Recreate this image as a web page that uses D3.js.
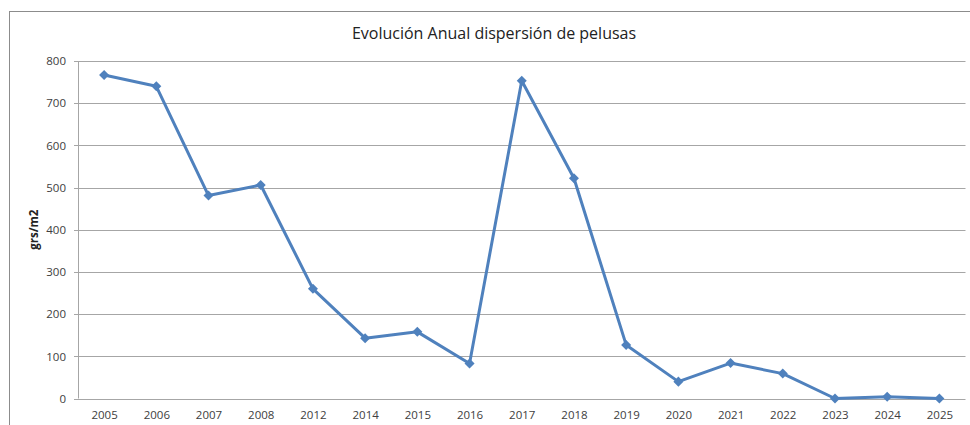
<!DOCTYPE html>
<html>
<head>
<meta charset="utf-8">
<script src="https://cdn.jsdelivr.net/npm/d3@7"></script>
<style>
  body { margin: 0; background: #fff; }
  svg { display: block; font-family: "Open Sans", "Noto Sans", sans-serif; }
</style>
</head>
<body>
<svg class="chart_svg"></svg>
<script>
const years = ["2005", "2006", "2007", "2008", "2012", "2014", "2015", "2016", "2017", "2018", "2019", "2020", "2021", "2022", "2023", "2024", "2025"];
const values = [767, 740, 481, 506, 260, 143, 158, 83, 753, 522, 127, 40, 84, 59, 0, 4, 0];
const yTicks = [0, 100, 200, 300, 400, 500, 600, 700, 800];
const title = "Evolución Anual dispersión de pelusas";
const yLabel = "grs/m2";

const width = 970, height = 425;
const margin = { left: 78, top: 61, right: 4.5, bottom: 26.5 };
const innerWidth = width - margin.left - margin.right;
const innerHeight = height - margin.top - margin.bottom;

const svg = d3.select(".chart_svg").attr("width", width).attr("height", height);

// outer frame (bottom edge falls outside the picture)
svg.append("rect").attr("x", 9.5).attr("y", 11.5).attr("width", 962).attr("height", 430)
  .attr("fill", "none").attr("stroke", "#8c8c8c").attr("stroke-width", 1);

svg.append("text").attr("x", 494).attr("y", 39).attr("text-anchor", "middle")
  .attr("font-size", 16).attr("fill", "#222").text(title);

const chart = svg.append("g").attr("transform", `translate(${margin.left}, ${margin.top})`);

const xScale = d3.scalePoint().domain(years).range([0, innerWidth]).padding(0.5);
const yScale = d3.scaleLinear().domain([0, 800]).range([innerHeight, 0]);

// gridlines
chart.selectAll(".grid").data(yTicks).join("line").attr("class", "grid")
  .attr("x1", -4).attr("x2", innerWidth)
  .attr("y1", d => Math.round(yScale(d)) + 0.5).attr("y2", d => Math.round(yScale(d)) + 0.5)
  .attr("stroke", "#a6a6a6").attr("stroke-width", 1);

const yAxis = d3.axisLeft(yScale).tickValues(yTicks).tickSize(0).tickPadding(12);
chart.append("g").attr("class", "y-axis").call(yAxis)
  .call(g => g.select(".domain").attr("stroke", "#a6a6a6").attr("d", `M0.5,0V${innerHeight}`))
  .call(g => g.selectAll("text").attr("font-size", 11.5).attr("fill", "#404040").attr("font-family", "Open Sans, sans-serif"));

const xAxis = d3.axisBottom(xScale).tickSize(0).tickPadding(12);
chart.append("g").attr("class", "x-axis").attr("transform", `translate(0, ${innerHeight})`).call(xAxis)
  .call(g => g.select(".domain").remove())
  .call(g => g.selectAll("text").attr("font-size", 11.5).attr("fill", "#404040").attr("font-family", "Open Sans, sans-serif"));

chart.append("text").attr("transform", `translate(-40, ${innerHeight / 2}) rotate(-90)`)
  .attr("text-anchor", "middle").attr("font-size", 11.5).attr("font-weight", "bold")
  .attr("fill", "#222").text(yLabel);

const line = d3.line().x((d, i) => xScale(years[i])).y(d => yScale(d));
chart.append("path").datum(values).attr("d", line)
  .attr("fill", "none").attr("stroke", "#4f81bd").attr("stroke-width", 3).attr("stroke-linejoin", "round");

chart.selectAll(".marker").data(values).join("path").attr("class", "marker")
  .attr("d", d3.symbol(d3.symbolDiamond2, 64))
  .attr("transform", (d, i) => `translate(${xScale(years[i])}, ${yScale(d)})`)
  .attr("fill", "#4f81bd");
</script>
</body>
</html>
